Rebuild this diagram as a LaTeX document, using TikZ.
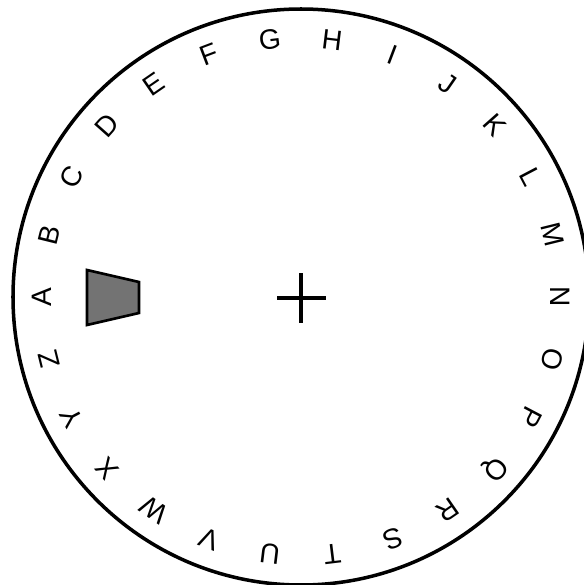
\documentclass[tikz,border=0pt]{standalone}
\usepackage{fontspec}
\setmainfont{Liberation Sans}
\usetikzlibrary{positioning,calc}

\begin{document}
\begin{tikzpicture}[
    x=0.02cm, y=-0.02cm,
    rim/.style={draw=black, line width=2pt},
    letter/.style={inner sep=0pt, font=\fontsize{16}{16}\selectfont},
    cross/.style={draw=black, line width=2.6pt},
    slider/.style={draw=black, line width=1.5pt, fill=black!55}]
\useasboundingbox (0,0) rectangle (584,585);
\coordinate (o) at (301,297);
\draw[rim] (o) circle[radius=288*0.02cm];
% alphabet round the rim, tops outward
\foreach \ch [count=\i from 0] in {A,B,C,D,E,F,G,H,I,J,K,L,M,N,O,P,Q,R,S,T,U,V,W,X,Y,Z}{
  \pgfmathsetmacro{\ang}{180-\i*360/26}
  \node[letter, rotate=\ang-90] (l\ch) at ($(o)+(\ang:259*0.02cm)$) {\ch};
}
\coordinate (ct) at (301,273);
\coordinate (cb) at (301,323);
\coordinate (cl) at (277,298);
\coordinate (cr) at (326,298);
\draw[cross] (ct) -- (cb);
\draw[cross] (cl) -- (cr);
\draw[slider] (87,270) -- (139,282) -- (139,313) -- (87,325) -- cycle;
\end{tikzpicture}
\end{document}
